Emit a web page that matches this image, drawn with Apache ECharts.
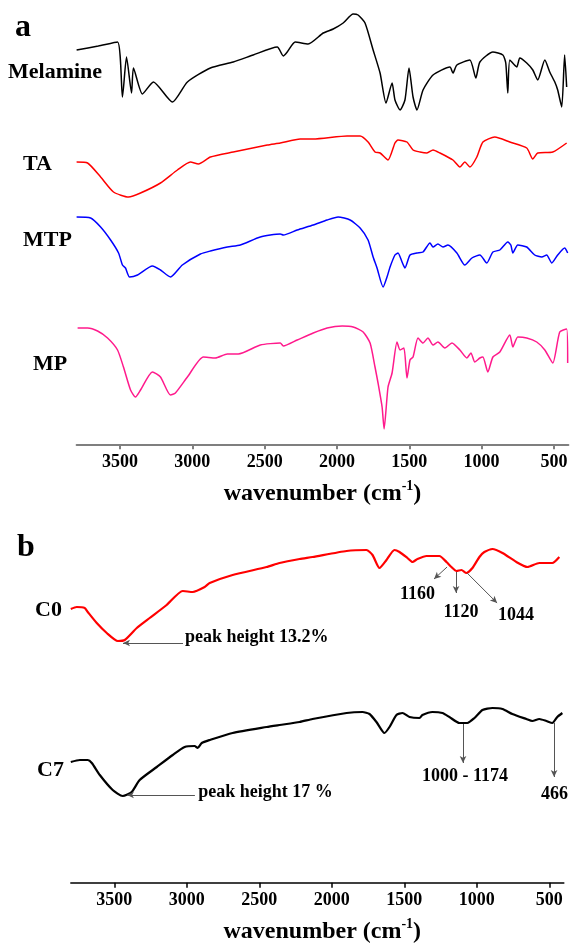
<!DOCTYPE html>
<html>
<head>
<meta charset="utf-8">
<script src="https://cdn.jsdelivr.net/npm/echarts@6/dist/echarts.min.js"></script>
<style>
  html, body { margin: 0; padding: 0; background: #fff; }
  #main { width: 570px; height: 946px; }
</style>
</head>
<body>
<div id="main"></div>
<script>
// FTIR spectra, offset transmittance (a.u.) vs wavenumber (cm-1)
var tickValues = [500, 1000, 1500, 2000, 2500, 3000, 3500];

// panel a
var melamine = [[3800,396],[3650,400],[3517,404],[3483,349],[3455,389],[3420,353],[3407,378],[3345,352],[3269,364],
  [3137,344],[3034,364],[2875,378],[2717,384],[2579,391],[2413,399],[2371,390],[2344,394],[2289,404],[2199,402],
  [2095,413],[2026,417],[1957,423],[1888,432],[1854,431],[1806,423],[1750,396],[1702,373],[1661,343],[1619,363],
  [1599,346],[1564,336],[1530,346],[1502,378],[1474,349],[1447,336],[1405,356],[1336,371],[1219,379],[1198,373],
  [1171,381],[1081,386],[1040,368],[1012,384],[922,394],[853,391],[833,383],[819,353],[805,386],[757,379],[736,388],
  [688,383],[646,376],[612,366],[563,386],[529,374],[494,364],[474,356],[446,339],[426,391],[412,359]];
var ta = [[3800,284],[3724,283],[3634,269],[3545,254],[3441,249],[3358,253],[3220,263],[3103,276],[3013,284],
  [2958,282],[2875,289],[2717,294],[2482,301],[2392,303],[2254,307],[2164,307],[1930,310],[1840,310],[1785,304],
  [1737,294],[1702,293],[1647,286],[1599,303],[1578,306],[1516,304],[1474,296],[1426,294],[1378,293],[1336,296],
  [1288,293],[1198,286],[1150,279],[1116,284],[1081,279],[1033,289],[991,304],[909,309],[805,304],[688,298],
  [646,287],[612,293],[508,294],[412,303]];
var mtp = [[3800,229],[3703,228],[3634,219],[3565,206],[3510,193],[3483,181],[3462,178],[3434,169],[3379,171],
  [3276,180],[3220,176],[3151,169],[3069,181],[2944,192],[2875,195],[2758,199],[2668,201],[2530,209],[2392,212],
  [2371,211],[2275,216],[2164,221],[2068,226],[1992,229],[1909,226],[1840,218],[1785,206],[1750,189],[1723,178],
  [1681,159],[1654,169],[1633,179],[1599,191],[1578,193],[1550,184],[1530,178],[1495,191],[1447,193],[1405,194],
  [1357,203],[1336,199],[1302,202],[1267,199],[1233,201],[1171,193],[1116,181],[1067,188],[1012,191],[964,183],
  [922,194],[874,196],[819,204],[798,201],[784,193],[750,201],[688,199],[633,191],[584,189],[550,191],[515,183],
  [474,191],[426,198],[405,193]];
var mp = [[3793,118],[3724,118],[3655,115],[3586,108],[3517,96],[3476,79],[3427,56],[3393,49],[3358,56],[3276,74],
  [3220,69],[3151,51],[3117,53],[3034,69],[2924,89],[2841,88],[2758,92],[2682,92],[2530,101],[2392,103],[2371,100],
  [2275,106],[2164,113],[2068,118],[1964,120],[1888,119],[1819,114],[1771,103],[1737,79],[1716,63],[1688,39],
  [1674,17],[1647,59],[1619,73],[1585,104],[1564,96],[1537,98],[1516,68],[1495,86],[1474,89],[1440,108],[1405,103],
  [1371,108],[1336,101],[1302,104],[1254,98],[1205,103],[1150,96],[1102,88],[1074,93],[1047,84],[1012,88],[991,89],
  [957,74],[922,89],[874,94],[805,111],[784,99],[750,109],[688,108],[619,104],[563,96],[508,83],[460,114],[412,117],
  [405,83]];

// panel b
var c0 = [[3800,276],[3759,278],[3704,277],[3683,273],[3621,262],[3552,252],[3476,244],[3428,245],[3345,257],
  [3256,267],[3139,280],[3028,294],[2959,293],[2877,298],[2842,302],[2684,310],[2450,318],[2360,322],[2222,326],
  [2133,328],[1898,334],[1761,335],[1719,330],[1671,317],[1623,325],[1568,335],[1533,333],[1478,327],[1444,323],
  [1409,326],[1347,329],[1258,329],[1209,323],[1175,318],[1140,314],[1106,315],[1072,312],[1030,317],[982,328],
  [948,333],[892,336],[823,332],[727,323],[651,318],[569,322],[479,322],[431,328]];
var c7 = [[3800,123],[3738,125],[3683,125],[3655,122],[3600,110],[3511,95],[3442,89],[3380,93],[3325,105],
  [3207,118],[3097,130],[3015,138],[2946,139],[2925,137],[2897,142],[2842,145],[2684,152],[2450,158],[2360,160],
  [2222,163],[2133,166],[1898,172],[1788,173],[1740,171],[1692,163],[1637,152],[1602,158],[1554,170],[1513,172],
  [1464,168],[1395,167],[1375,170],[1306,173],[1237,172],[1189,168],[1120,162],[1065,162],[1016,167],[961,175],
  [892,177],[823,176],[755,171],[658,166],[617,164],[569,166],[520,164],[479,162],[445,168],[410,172]];

// annotations: arrows [from, to] and texts [wn, value, text, placement]
var c0Arrows = [[[3026,242],[3440,242]], [[1205,318],[1295,306]], [[1143,313],[1143,292]], [[1067,312],[860,282]]];
var c0Notes = [[3012,248,'peak height 13.2%','right'], [1409,291,'1160','inside'], [1109,273,'1120','inside'], [730,270,'1044','inside']];
var c7Arrows = [[[2944,90],[3413,90]], [[1095,161],[1095,122]], [[467,162],[467,108]]];
var c7Notes = [[2921,93,'peak height 17 %','right'], [1081,109,'1000 - 1174','inside'], [464,91,'466','inside']];

var serif = '"Liberation Serif", "Times New Roman", serif';

function xAxisCfg(gridIndex, color, width, shift) {
  return {
    type: 'value', gridIndex: gridIndex, inverse: true, min: 400, max: 3800,
    name: '{n|wavenumber (cm}{s|-1}{n|)}', nameLocation: 'middle', nameGap: 35,
    nameTextStyle: {
      padding: [0, 0, 0, shift],
      rich: {
        n: { fontFamily: serif, fontWeight: 'bold', fontSize: 24, color: '#000', lineHeight: 28 },
        s: { fontFamily: serif, fontWeight: 'bold', fontSize: 14, color: '#000', verticalAlign: 'top', lineHeight: 16 }
      }
    },
    splitLine: { show: false },
    axisLine: { show: true, onZero: false, lineStyle: { color: color, width: width } },
    axisTick: { show: true, length: 5, customValues: tickValues, lineStyle: { color: color, width: width } },
    axisLabel: {
      customValues: tickValues, margin: 9, color: '#000', fontFamily: serif, fontWeight: 'bold', fontSize: 18,
      formatter: function (v) { return String(v); }
    }
  };
}

function arrowMarks(list) {
  return {
    silent: true, symbol: ['none', 'arrow'], symbolSize: [5, 7],
    label: { show: false },
    lineStyle: { color: '#555', width: 1, type: 'solid' },
    emphasis: { disabled: true },
    data: list.map(function (a) { return [{ coord: a[0] }, { coord: a[1] }]; })
  };
}

function noteMarks(list) {
  return {
    silent: true, symbol: 'circle', symbolSize: 0,
    itemStyle: { color: 'transparent' },
    data: list.map(function (n) {
      return {
        coord: [n[0], n[1]], name: n[2],
        label: {
          show: true, formatter: '{b}', position: n[3], distance: 0,
          color: '#000', fontFamily: serif, fontWeight: 'bold', fontSize: 18
        }
      };
    })
  };
}

function line(name, data, color, width, axis, extra) {
  var s = {
    name: name, type: 'line', data: data, xAxisIndex: axis, yAxisIndex: axis,
    showSymbol: false, symbol: 'none', smooth: 0.2,
    lineStyle: { color: color, width: width }, itemStyle: { color: color }
  };
  if (extra) { for (var k in extra) s[k] = extra[k]; }
  return s;
}

function label(text, x, y, size) {
  return {
    type: 'text', left: x, top: y - size * 0.55,
    style: { text: text, fill: '#000', font: 'bold ' + size + 'px ' + serif }
  };
}

var chart = echarts.init(document.getElementById('main'));
var option = {
  animation: false,
  backgroundColor: '#fff',
  grid: [
    { left: 76.6, right: 1.6, top: 10, bottom: 501.7, containLabel: false, outerBoundsMode: 'none' },
    { left: 70.8, right: 6.2, top: 520, bottom: 63.3, containLabel: false, outerBoundsMode: 'none' }
  ],
  xAxis: [xAxisCfg(0, '#7f7f7f', 2, 0), xAxisCfg(1, '#000', 1.5, 10)],
  yAxis: [
    { type: 'value', gridIndex: 0, min: 1.7, max: 436, show: false },
    { type: 'value', gridIndex: 1, min: 2.3, max: 365, show: false }
  ],
  series: [
    line('Melamine', melamine, '#000', 1.5, 0),
    line('TA', ta, '#ff0000', 1.5, 0),
    line('MTP', mtp, '#0000ff', 1.5, 0),
    line('MP', mp, '#ff1a8c', 1.5, 0),
    line('C0', c0, '#ff0000', 2.2, 1, { markLine: arrowMarks(c0Arrows), markPoint: noteMarks(c0Notes) }),
    line('C7', c7, '#000', 2.2, 1, { markLine: arrowMarks(c7Arrows), markPoint: noteMarks(c7Notes) })
  ],
  graphic: [
    label('a', 15, 29, 32),
    label('Melamine', 8, 73, 22),
    label('TA', 23, 165, 22),
    label('MTP', 23, 241, 22),
    label('MP', 33, 365, 22),
    label('b', 17, 549, 32),
    label('C0', 35, 611, 22),
    label('C7', 37, 771, 22)
  ]
};
chart.setOption(option);
</script>
</body>
</html>
